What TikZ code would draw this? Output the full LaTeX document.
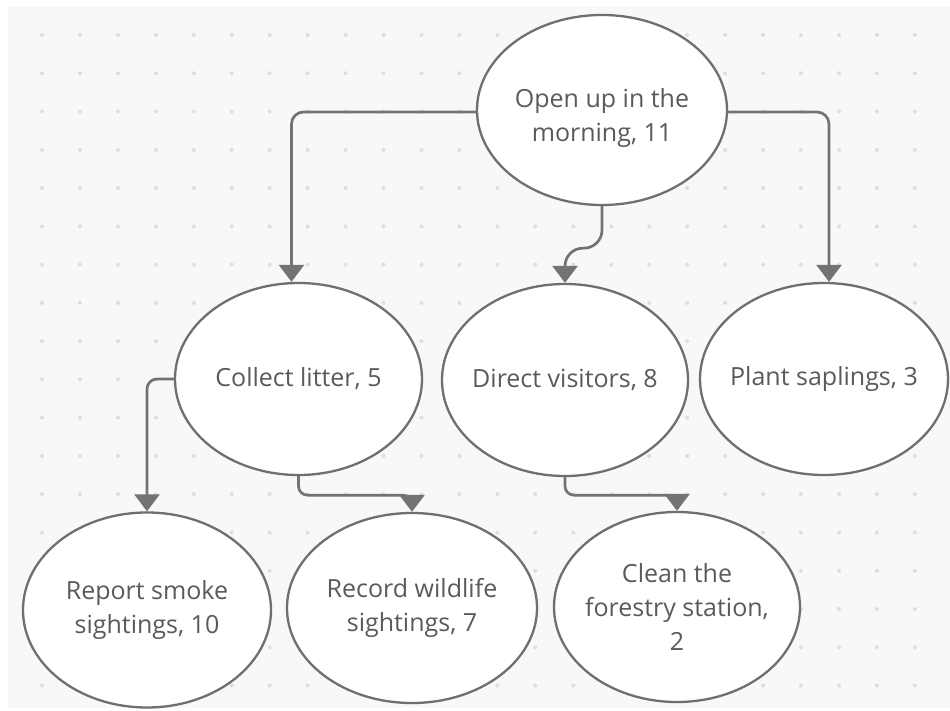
\documentclass[tikz,border=0pt]{standalone}
\usepackage{fontspec}
\setmainfont{Open Sans}
\usetikzlibrary{shapes.geometric,arrows.meta}
\definecolor{bg}{HTML}{F8F8FA}
\definecolor{dotc}{HTML}{DEDEE0}
\definecolor{edgec}{HTML}{6F6F6F}
\definecolor{txt}{HTML}{5A5A5A}
\definecolor{conn}{HTML}{737373}
\begin{document}
\begin{tikzpicture}[x=1pt,y=-1pt,
  task/.style={ellipse, draw=edgec, line width=2.3pt, fill=white, inner sep=-15pt,
    align=center, text=txt, font=\fontsize{25}{34}\selectfont},
  link/.style={draw=conn, line width=2.7pt, rounded corners=12pt,
    -{Triangle[width=25pt,length=17pt]}}]
\useasboundingbox (0,0) rectangle (950,711);
\fill[white] (0,0) rectangle (950,711);
\fill[bg] (8,7) rectangle (950,708);
\foreach \i in {0,...,23}{\foreach \j in {0,...,17}{\fill[dotc] (42+37.95*\i, 35+38.27*\j) circle (2pt);}}

\node[task, minimum width=250pt, minimum height=190pt] (open) at (602,110) {\raisebox{-8pt}[\height][\depth]{\begin{tabular}{@{}c@{}}Open up in the\\morning, 11\end{tabular}}};
\node[task, minimum width=247pt, minimum height=192pt] (collect) at (298.5,379) {Collect litter, 5};
\node[task, minimum width=246pt, minimum height=192pt] (direct) at (565,380) {Direct visitors, 8};
\node[task, minimum width=248pt, minimum height=192pt] (plant) at (824,379) {Plant saplings, 3};
\node[task, minimum width=248pt, minimum height=195pt] (report) at (147,610) {Report smoke\\sightings, 10};
\node[task, minimum width=250pt, minimum height=190pt] (record) at (412,608) {Record wildlife\\sightings, 7};
\node[task, minimum width=246pt, minimum height=190pt] (clean) at (677,607) {Clean the\\forestry station,\\2};

\draw[link] ([yshift=-2pt]open.west) -| ([xshift=-7pt]collect.north);
\draw[link] ([yshift=-2pt]open.east) -| ([xshift=5pt]plant.north);
\draw[link, rounded corners=18pt] (open.south) -- ++(0,42) -| (direct.north);
\draw[link, rounded corners=10pt] (collect.west) -| (report.north);
\draw[link, rounded corners=9pt] (collect.south) -- ++(0,19) -| (record.north);
\draw[link, rounded corners=9pt] (direct.south) -- ++(0,18) -| (clean.north);
\end{tikzpicture}
\end{document}
